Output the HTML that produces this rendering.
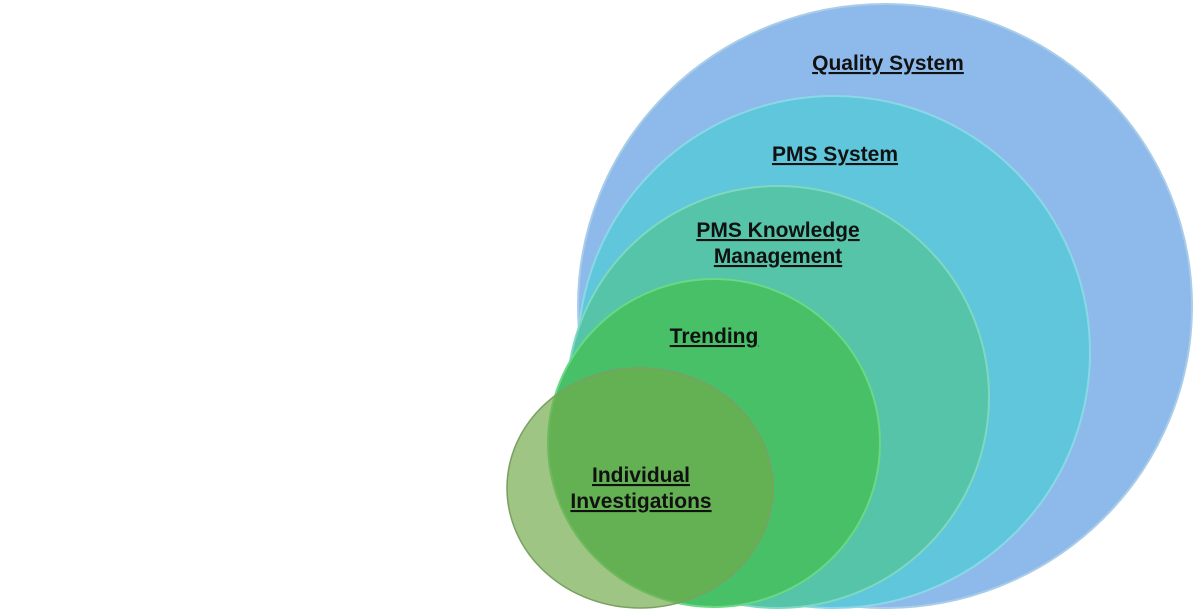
<!DOCTYPE html>
<html><head><style>
html,body{margin:0;padding:0;background:#fff;width:1195px;height:613px;overflow:hidden}
svg{display:block}
text{font-family:"Liberation Sans",sans-serif;font-weight:bold;font-size:21px;fill:#111;text-decoration:underline;text-anchor:middle}
</style></head><body>
<svg width="1195" height="613" viewBox="0 0 1195 613">
<ellipse cx="885" cy="306" rx="307" ry="302" fill="#8dbaea" stroke="#a9cde8" stroke-width="2"/>
<ellipse cx="834" cy="352" rx="256" ry="256" fill="#5fc6dc" stroke="#8ad8e6" stroke-width="2"/>
<ellipse cx="778" cy="397" rx="211" ry="211" fill="#55c4a8" stroke="#7fd8c0" stroke-width="2"/>
<ellipse cx="714" cy="443" rx="166" ry="164" fill="#48c068" stroke="#6ad884" stroke-width="2"/>
<ellipse cx="640" cy="488" rx="133" ry="120" fill="rgba(112,170,72,0.68)" stroke="#7aa062" stroke-width="1.5"/>
<text x="888" y="70">Quality System</text>
<text x="835" y="161">PMS System</text>
<text x="778" y="237">PMS Knowledge</text>
<text x="778" y="263">Management</text>
<text x="714" y="343">Trending</text>
<text x="641" y="482">Individual</text>
<text x="641" y="508">Investigations</text>
</svg>
</body></html>
